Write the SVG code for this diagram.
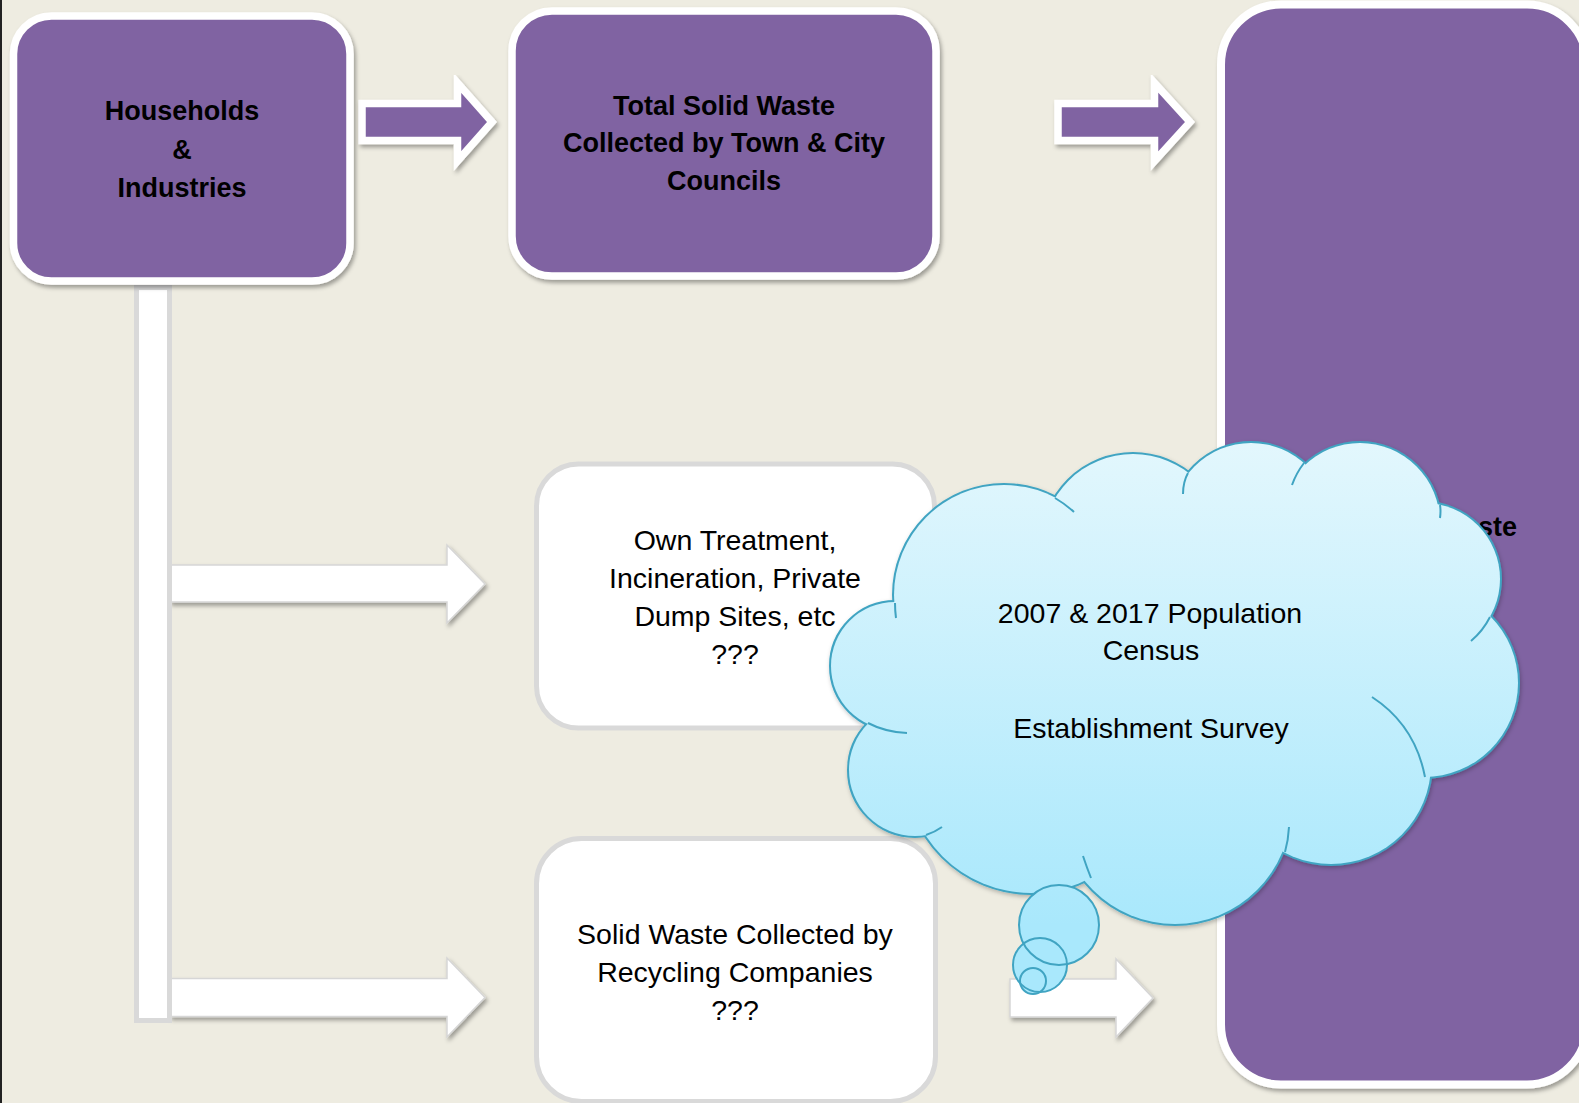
<svg xmlns="http://www.w3.org/2000/svg" xmlns:xlink="http://www.w3.org/1999/xlink" width="1579" height="1103" viewBox="0 0 1579 1103">
  <style>
    .bold { font-family: "Liberation Sans", Arial, sans-serif; font-weight: bold; font-size: 27px; fill: #000; text-anchor: middle; }
    .reg { font-family: "Liberation Sans", Arial, sans-serif; font-size: 28.5px; fill: #000; text-anchor: middle; }
    .pbox { fill: #8064a2; stroke: #ffffff; stroke-width: 7.5; }
    .wbox { fill: #ffffff; stroke: #d9d9d9; stroke-width: 5; }
    .parrow { fill: #8064a2; stroke: #ffffff; stroke-width: 7.5; stroke-linejoin: miter; stroke-miterlimit: 10; }
    .warrow { fill: #ffffff; stroke: #d6d6d6; stroke-width: 1.5; stroke-linejoin: miter; }
    .cl { stroke: #40a4c2; }
  </style>
  <defs>
    <filter id="sh" x="-10%" y="-10%" width="125%" height="130%">
      <feDropShadow dx="2" dy="3" stdDeviation="2" flood-color="#000" flood-opacity="0.35"/>
    </filter>
    <filter id="csh" x="-10%" y="-10%" width="125%" height="130%">
      <feDropShadow dx="1" dy="2" stdDeviation="2" flood-color="#000" flood-opacity="0.25"/>
    </filter>
    <linearGradient id="cg" gradientUnits="userSpaceOnUse" x1="0" y1="440" x2="0" y2="925">
      <stop offset="0" stop-color="#e3f7fd"/>
      <stop offset="1" stop-color="#a9e8fc"/>
    </linearGradient>
    <g id="lobes">
      <circle cx="1004" cy="595" r="110"/>
      <circle cx="1133" cy="545" r="91"/>
      <circle cx="1251" cy="523" r="80"/>
      <circle cx="1360" cy="523" r="80"/>
      <circle cx="1424" cy="579" r="76"/>
      <circle cx="1424" cy="683" r="94"/>
      <circle cx="1331" cy="764" r="100"/>
      <circle cx="1175" cy="808" r="116"/>
      <circle cx="1031" cy="768" r="125"/>
      <circle cx="915" cy="770" r="66"/>
      <circle cx="895" cy="666" r="64"/>
    </g>
  </defs>

  <rect x="0" y="0" width="1579" height="1103" fill="#eeece1"/>
  <rect x="0" y="0" width="2" height="1103" fill="#222222"/>

  <g id="connectors">
    <polygon class="warrow" filter="url(#sh)" points="170,565 447,565 447,545 485,584 447,623 447,602 170,602"/>
    <polygon class="warrow" filter="url(#sh)" points="170,978.5 447,978.5 447,958 485,997.5 447,1037 447,1016.5 170,1016.5"/>
    <polygon class="warrow" filter="url(#sh)" points="1010,979 1116,979 1116,959 1153,998 1116,1037 1116,1017 1010,1017"/>
    <rect x="136.5" y="287.5" width="33" height="733" fill="#ffffff" stroke="#d9d9d9" stroke-width="5"/>
    <polygon class="parrow" filter="url(#sh)" points="362,103.5 457.5,103.5 457.5,83 492,122 457.5,161 457.5,140.5 362,140.5"/>
    <polygon class="parrow" filter="url(#sh)" points="1058,103.5 1154.5,103.5 1154.5,83 1190,122 1154.5,161 1154.5,140.5 1058,140.5"/>
  </g>

  <g id="households">
    <rect class="pbox" filter="url(#sh)" x="13.5" y="16" width="336.5" height="265" rx="38"/>
    <text class="bold" x="182" y="120">Households</text>
    <text class="bold" x="182" y="159">&amp;</text>
    <text class="bold" x="182" y="197">Industries</text>
  </g>

  <g id="total-collected">
    <rect class="pbox" filter="url(#sh)" x="512" y="11" width="424" height="265" rx="40"/>
    <text class="bold" x="724" y="115">Total Solid Waste</text>
    <text class="bold" x="724" y="152">Collected by Town &amp; City</text>
    <text class="bold" x="724" y="190">Councils</text>
  </g>

  <g id="right-box">
    <rect class="pbox" filter="url(#sh)" x="1221" y="4.5" width="366" height="1080" rx="60" style="stroke-width:8"/>
    <text class="bold" x="1478" y="536" style="text-anchor:start">ste</text>
  </g>

  <g id="own-treatment">
    <rect class="wbox" x="536.5" y="464" width="398" height="264" rx="42"/>
    <text class="reg" x="735" y="550">Own Treatment,</text>
    <text class="reg" x="735" y="588">Incineration, Private</text>
    <text class="reg" x="735" y="626">Dump Sites, etc</text>
    <text class="reg" x="735" y="664">???</text>
  </g>

  <g id="recycling">
    <rect class="wbox" x="536.5" y="838.5" width="399" height="263" rx="45"/>
    <text class="reg" x="735" y="944">Solid Waste Collected by</text>
    <text class="reg" x="735" y="982">Recycling Companies</text>
    <text class="reg" x="735" y="1020">???</text>
  </g>

  <g id="cloud">
    <g filter="url(#csh)">
      <use xlink:href="#lobes" fill="url(#cg)" class="cl" stroke-width="4"/>
    </g>
    <use xlink:href="#lobes" fill="url(#cg)" stroke="none"/>
    <polygon fill="url(#cg)" points="1004,595 1133,545 1251,523 1360,523 1424,579 1424,683 1331,764 1175,808 1031,768 915,770 895,666"/>
    <g fill="none" class="cl" stroke-width="2">
      <path d="M895,603 A110,110 0 0 0 896,618"/>
      <path d="M1055,498 A110,110 0 0 1 1074,512"/>
      <path d="M1188,473 Q1183,482 1183,494"/>
      <path d="M1304,463 A80,80 0 0 0 1292,485"/>
      <path d="M1440,505 Q1441,511 1440,518"/>
      <path d="M1490,617 A76,76 0 0 1 1471,641"/>
      <path d="M1372,697 Q1415,725 1425,777"/>
      <path d="M1289,827 A116,116 0 0 1 1285,852"/>
      <path d="M1083,856 Q1087,868 1091,878"/>
      <path d="M942,827 Q935,832 926,835"/>
      <path d="M868,723 Q885,732 907,733"/>
    </g>
    <g fill="url(#cg)">
      <circle cx="1059" cy="925" r="40"/>
      <circle cx="1040" cy="965" r="27"/>
      <circle cx="1033" cy="981" r="13"/>
    </g>
    <g fill="none" class="cl" stroke-width="2">
      <circle cx="1059" cy="925" r="40"/>
      <circle cx="1040" cy="965" r="27"/>
      <circle cx="1033" cy="981" r="13"/>
    </g>
    <text class="reg" x="1150" y="623">2007 &amp; 2017 Population</text>
    <text class="reg" x="1151" y="660">Census</text>
    <text class="reg" x="1151" y="738">Establishment Survey</text>
  </g>
</svg>
